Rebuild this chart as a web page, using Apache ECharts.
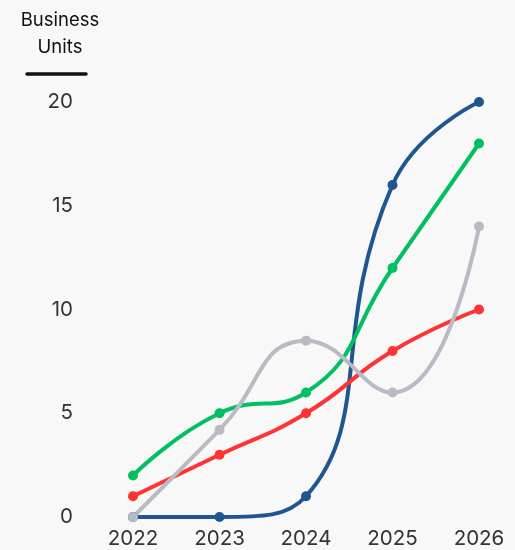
<!DOCTYPE html>
<html><head><meta charset="utf-8">
<script src="https://cdn.jsdelivr.net/npm/echarts@6/dist/echarts.min.js"></script>
<style>html,body{margin:0;padding:0;background:#f8f8f8}#c{width:515px;height:550px}</style>
</head><body><div id="c"></div>
<script>
const years = ['2022','2023','2024','2025','2026'];
const blueVals = [0, 0, 1, 16, 20];
const greenVals = [2, 5, 6, 12, 18];
const redVals = [1, 3, 5, 8, 10];
const grayVals = [0, 4.2, 8.5, 6, 14];
const yTicks = [0, 5, 10, 15, 20];

const font = 'Inter, "Noto Sans", sans-serif';
function ser(name, data, color) {
  return { name, type: 'line', data, smooth: 0.5, symbol: 'circle', symbolSize: 10,
    lineStyle: { width: 4, color }, itemStyle: { color }, z: 2 };
}
const chart = echarts.init(document.getElementById('c'));
chart.setOption({
  backgroundColor: '#f8f8f8',
  animation: false,
  grid: { left: 133, right: 36, top: 102, bottom: 33 },
  title: { text: 'Business\nUnits', left: 55, top: 2, textAlign: 'center',
    textStyle: { fontFamily: font, fontSize: 18.5, fontWeight: 'normal', color: '#111', lineHeight: 27 } },
  graphic: [{ type: 'line', shape: { x1: 27, y1: 74, x2: 86, y2: 74 },
    style: { stroke: '#111', lineWidth: 3.5, lineCap: 'round' } }],
  xAxis: { type: 'category', data: years, boundaryGap: false,
    axisLine: { show: false }, axisTick: { show: false }, splitLine: { show: false },
    axisLabel: { fontFamily: font, fontSize: 20.5, color: '#333', margin: 11 } },
  yAxis: { type: 'value', min: yTicks[0], max: yTicks[yTicks.length - 1], interval: 5,
    axisLine: { show: false }, axisTick: { show: false }, splitLine: { show: false },
    axisLabel: { fontFamily: font, fontSize: 20.5, color: '#333', margin: 60 } },
  series: [
    ser('Blue', blueVals, '#1f5591'),
    ser('Red', redVals, '#ff3333'),
    ser('Green', greenVals, '#00c060'),
    ser('Gray', grayVals, '#b8bac4')
  ]
});
</script></body></html>
